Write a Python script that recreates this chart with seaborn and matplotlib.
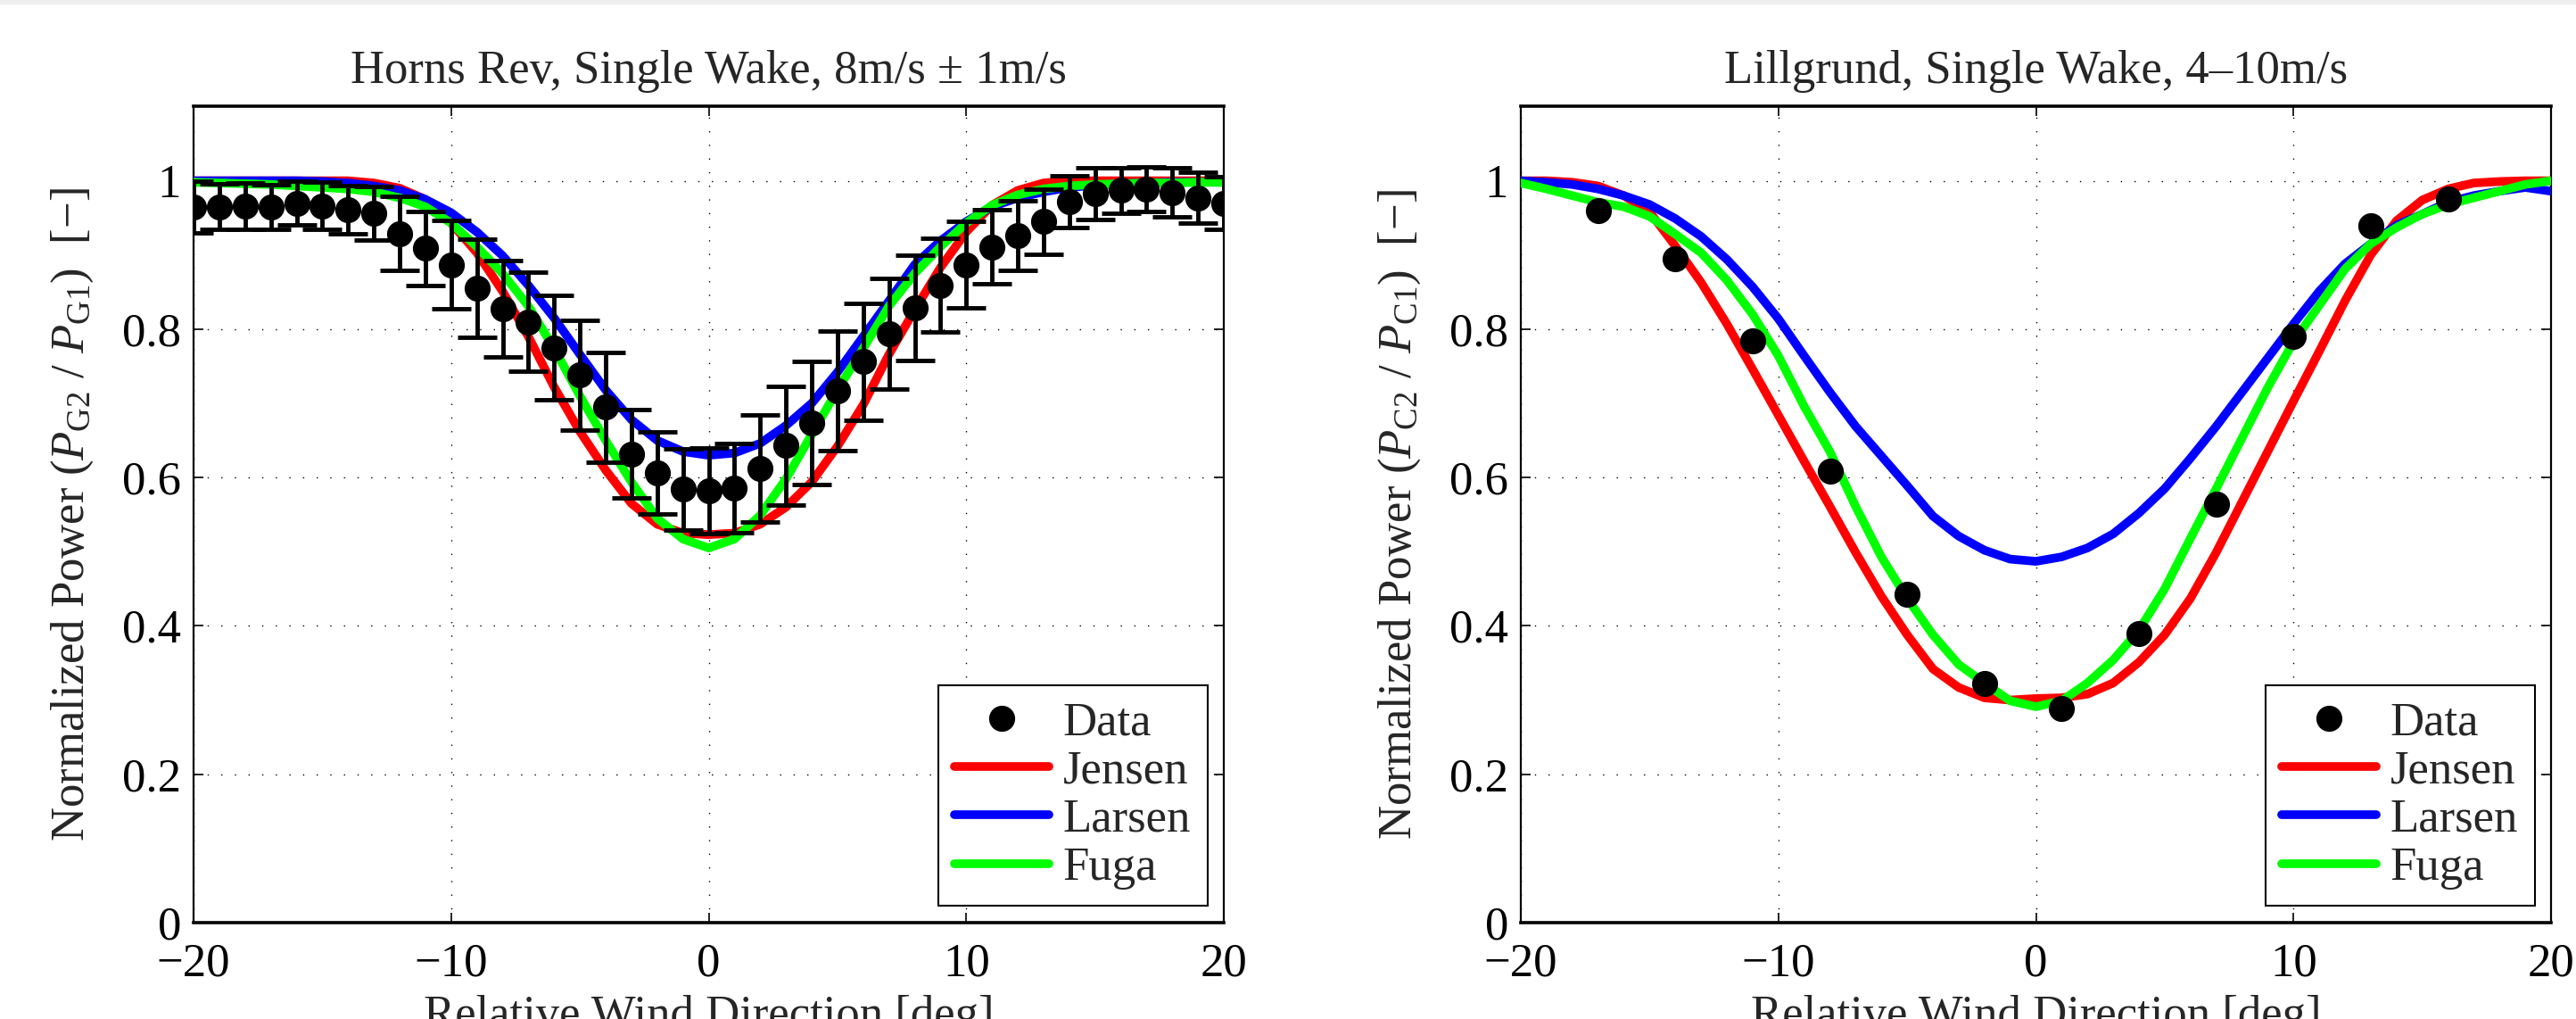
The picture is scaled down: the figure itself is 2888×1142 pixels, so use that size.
import matplotlib
matplotlib.use("Agg")
import matplotlib.pyplot as plt
from matplotlib.lines import Line2D
from matplotlib.patches import Rectangle
import seaborn as sns

# ---- Horns Rev, single wake, 8 m/s +- 1 m/s ----
hr_dir = list(range(-20, 21))
hr_data = [0.965, 0.965, 0.966, 0.965, 0.970, 0.966, 0.961, 0.956, 0.929, 0.909,
           0.887, 0.855, 0.827, 0.810, 0.775, 0.738, 0.695, 0.632, 0.606, 0.584,
           0.582, 0.586, 0.612, 0.643, 0.673, 0.717, 0.756, 0.794, 0.829, 0.859,
           0.887, 0.911, 0.926, 0.945, 0.972, 0.983, 0.987, 0.989, 0.984, 0.977,
           0.970]
hr_err = [0.035, 0.031, 0.031, 0.030, 0.029, 0.032, 0.033, 0.036, 0.050, 0.050,
          0.060, 0.066, 0.065, 0.067, 0.070, 0.074, 0.074, 0.060, 0.055, 0.055,
          0.058, 0.060, 0.072, 0.080, 0.083, 0.081, 0.079, 0.075, 0.071, 0.063,
          0.058, 0.050, 0.047, 0.044, 0.035, 0.035, 0.031, 0.030, 0.033, 0.034,
          0.035]
hr_jensen = [1.0, 1.0, 1.0, 1.0, 1.0, 1.0, 1.0, 0.997, 0.990, 0.975,
             0.943, 0.903, 0.851, 0.790, 0.722, 0.662, 0.610, 0.565, 0.537, 0.525,
             0.523, 0.525, 0.537, 0.560, 0.594, 0.642, 0.698, 0.766, 0.826, 0.883,
             0.931, 0.967, 0.987, 0.997, 1.0, 1.0, 1.0, 1.0, 1.0, 1.0,
             1.0]
hr_larsen = [1.0, 1.0, 1.0, 1.0, 1.0, 0.999, 0.997, 0.993, 0.987, 0.975,
             0.957, 0.931, 0.899, 0.859, 0.815, 0.766, 0.718, 0.678, 0.650, 0.635,
             0.630, 0.633, 0.646, 0.670, 0.700, 0.742, 0.790, 0.838, 0.887, 0.919,
             0.945, 0.965, 0.977, 0.985, 0.991, 0.994, 0.996, 0.997, 0.998, 0.998,
             0.998]
hr_fuga = [0.998, 0.997, 0.996, 0.995, 0.993, 0.991, 0.989, 0.985, 0.977, 0.965,
           0.943, 0.911, 0.875, 0.831, 0.774, 0.710, 0.650, 0.594, 0.545, 0.517,
           0.505, 0.517, 0.549, 0.598, 0.658, 0.718, 0.774, 0.831, 0.875, 0.911,
           0.943, 0.967, 0.981, 0.989, 0.993, 0.995, 0.996, 0.997, 0.997, 0.998,
           0.998]

# ---- Lillgrund, single wake, 4-10 m/s ----
lg_data_dir = [-17, -14, -11, -8, -5, -2, 1, 4, 7, 10, 13, 16]
lg_data = [0.960, 0.895, 0.784, 0.608, 0.442, 0.322, 0.289, 0.390, 0.564, 0.790,
           0.939, 0.975]
lg_dir = list(range(-20, 21))
lg_jensen = [1.0, 1.0, 0.998, 0.993, 0.980, 0.958, 0.912, 0.863, 0.807, 0.746,
             0.684, 0.622, 0.561, 0.499, 0.440, 0.388, 0.342, 0.317, 0.303, 0.300,
             0.302, 0.303, 0.308, 0.323, 0.351, 0.388, 0.437, 0.499, 0.567, 0.635,
             0.703, 0.770, 0.838, 0.900, 0.946, 0.974, 0.989, 0.997, 0.999, 1.0,
             1.0]
lg_larsen = [1.0, 0.998, 0.995, 0.989, 0.980, 0.968, 0.949, 0.925, 0.894, 0.857,
             0.814, 0.764, 0.715, 0.669, 0.629, 0.589, 0.548, 0.521, 0.502, 0.490,
             0.487, 0.493, 0.505, 0.524, 0.552, 0.585, 0.626, 0.669, 0.715, 0.761,
             0.807, 0.851, 0.888, 0.915, 0.940, 0.955, 0.971, 0.980, 0.986, 0.991,
             0.986]
lg_fuga = [0.997, 0.989, 0.980, 0.971, 0.965, 0.952, 0.928, 0.903, 0.866, 0.820,
           0.764, 0.696, 0.635, 0.561, 0.493, 0.437, 0.388, 0.348, 0.323, 0.299,
           0.291, 0.299, 0.323, 0.354, 0.394, 0.450, 0.518, 0.585, 0.653, 0.721,
           0.783, 0.832, 0.881, 0.915, 0.937, 0.955, 0.968, 0.977, 0.986, 0.995,
           1.0]

model_names = ["Jensen", "Larsen", "Fuga"]
model_colors = ["#ff0000", "#0000ff", "#00ff00"]
yticks = [0, 0.2, 0.4, 0.6, 0.8, 1]
ytick_labels = ["0", "0.2", "0.4", "0.6", "0.8", "1"]
xticks = [-20, -10, 0, 10, 20]

sns.set_theme(style="white")
plt.rcParams["font.family"] = ["Liberation Serif", "DejaVu Serif"]
plt.rcParams["mathtext.fontset"] = "custom"
plt.rcParams["mathtext.rm"] = "Liberation Serif"
plt.rcParams["mathtext.it"] = "Liberation Serif:italic"
plt.rcParams["axes.unicode_minus"] = True

FS = 38
LW = 7
MS = 20

fig = plt.figure(figsize=(28.88, 11.42), dpi=100)
fig.patches.append(Rectangle((0, 1 - 4 / 1142), 1, 4 / 1142, transform=fig.transFigure,
                             color="#efefef", zorder=0))
ax1 = fig.add_axes([217 / 2888, 0.0946, 1155 / 2888, 0.8008])
ax2 = fig.add_axes([1705 / 2888, 0.0946, 1155 / 2888, 0.8008])


def style_axes(ax, title, ylabel):
    ax.set_xlim(-20, 20)
    ax.set_ylim(0, 1.1)
    ax.set_xticks(xticks)
    ax.set_yticks(yticks)
    ax.set_yticklabels(ytick_labels)
    ax.grid(True, color="black", linestyle=(0, (1, 10)), linewidth=1.0)
    ax.set_axisbelow(True)
    ax.tick_params(direction="in", length=8, width=1.2, labelsize=FS, colors="black",
                   top=True, right=True, bottom=True, left=True)
    ax.tick_params(axis="x", pad=16)
    ax.tick_params(axis="y", pad=10)
    for side in ["left", "right"]:
        ax.spines[side].set_linewidth(1.6)
        ax.spines[side].set_color("black")
    for side in ["top", "bottom"]:
        ax.spines[side].set_linewidth(2.6)
        ax.spines[side].set_color("black")
    ax.set_title(title, fontsize=FS, pad=19)
    ax.set_xlabel("Relative Wind Direction [deg]", fontsize=FS, labelpad=8)
    ax.set_ylabel(ylabel, fontsize=FS, labelpad=22)

    handles = [Line2D([], [], color="black", marker="o", linestyle="none", markersize=MS)]
    handles += [Line2D([], [], color=c, lw=LW) for c in model_colors]
    leg = ax.legend(handles, ["Data"] + model_names, loc="lower right", fontsize=FS,
                    frameon=True, fancybox=False, framealpha=1, edgecolor="black",
                    handlelength=2.0, handletextpad=0.3, labelspacing=0.12,
                    borderpad=0.35, borderaxespad=0.35)
    leg.get_frame().set_linewidth(1.5)


# left panel
for vals, name, col in zip([hr_jensen, hr_larsen, hr_fuga], model_names, model_colors):
    sns.lineplot(x=hr_dir, y=vals, color=col, lw=LW, ax=ax1, zorder=3)
ax1.errorbar(hr_dir, hr_data, yerr=hr_err, fmt="o", color="black", markersize=MS,
             elinewidth=3.5, capsize=16, capthick=3.5, zorder=5)
style_axes(ax1, "Horns Rev, Single Wake, 8m/s \u00b1 1m/s",
           r"Normalized Power ($P_{\mathrm{G2}}$ / $P_{\mathrm{G1}}$)  [$-$]")

# right panel
for vals, name, col in zip([lg_jensen, lg_larsen, lg_fuga], model_names, model_colors):
    sns.lineplot(x=lg_dir, y=vals, color=col, lw=LW, ax=ax2, zorder=3)
sns.scatterplot(x=lg_data_dir, y=lg_data, color="black", s=(MS + 1) ** 2, edgecolor="black",
                linewidth=0, ax=ax2, zorder=5)
style_axes(ax2, "Lillgrund, Single Wake, 4\u201310m/s",
           r"Normalized Power ($P_{\mathrm{C2}}$ / $P_{\mathrm{C1}}$)  [$-$]")

fig.savefig("out.png", dpi=100)
